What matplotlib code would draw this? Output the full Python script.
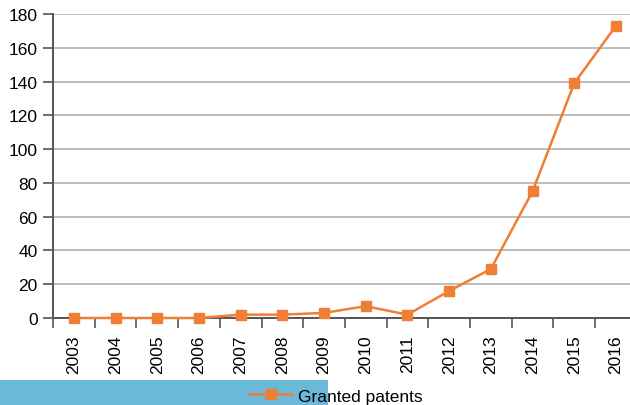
import numpy as np
import matplotlib.pyplot as plt
from matplotlib.patches import Rectangle

# 授權專利數量（每年）
years = ['2003', '2004', '2005', '2006', '2007', '2008', '2009',
         '2010', '2011', '2012', '2013', '2014', '2015', '2016']
granted = [0, 0, 0, 0, 2, 2, 3, 7, 2, 16, 29, 75, 139, 173]

yticks = [0, 20, 40, 60, 80, 100, 120, 140, 160, 180]

plt.rcParams['font.family'] = ['Liberation Sans', 'DejaVu Sans']

W, H = 630, 406
fig = plt.figure(figsize=(W / 100, H / 100), dpi=100)

# 軸區域（像素換算成比例）
left, right, top, bottom = 53, 630, 15, 319
ax = fig.add_axes([left / W, 1 - bottom / H, (right - left) / W, (bottom - top) / H])

orange = '#ee7f35'
x = np.arange(len(years))
line, = ax.plot(x, granted, color=orange, linewidth=1.8, marker='s',
                markersize=6.5, markerfacecolor=orange, markeredgecolor=orange,
                label='Granted patents', clip_on=False, zorder=3)

# 類別軸：刻度在類別之間
ax.set_xticks(x)
ax.set_xticklabels(years, rotation=90, fontsize=12.5)
ax.set_xticks(np.arange(-0.5, 14, 1), minor=True)
ax.set_xlim(-0.5, -0.5 + (right - left) / 41.7)  # set_xticks 會擴展範圍，所以放在後面
ax.tick_params(axis='x', which='major', length=0, pad=12)
ax.tick_params(axis='x', which='minor', length=7, width=1.2, color='#555555', direction='out')

ax.set_yticks(yticks)
ax.set_ylim(0, 180)
ax.tick_params(axis='y', length=7, width=1.2, color='#555555', labelsize=12.5, pad=4)

ax.grid(axis='y', color='#bdbdbd', linewidth=1.4)
ax.set_axisbelow(True)

for s in ['top', 'right']:
    ax.spines[s].set_visible(False)
for s in ['left', 'bottom']:
    ax.spines[s].set_color('#555555')
    ax.spines[s].set_linewidth(1.4)

# 底部藍色色塊
fig.patches.append(Rectangle((0, 0), 328 / W, (H - 381) / H, transform=fig.transFigure,
                             facecolor='#6cb8d8', edgecolor='none', zorder=0))

leg = fig.legend(handles=[line], loc='center left',
                 bbox_to_anchor=(249 / W, 1 - 397 / H), frameon=False,
                 fontsize=12.5, handlelength=2.5, handletextpad=0.3,
                 borderaxespad=0, borderpad=0)

fig.savefig('out.png', dpi=100)
